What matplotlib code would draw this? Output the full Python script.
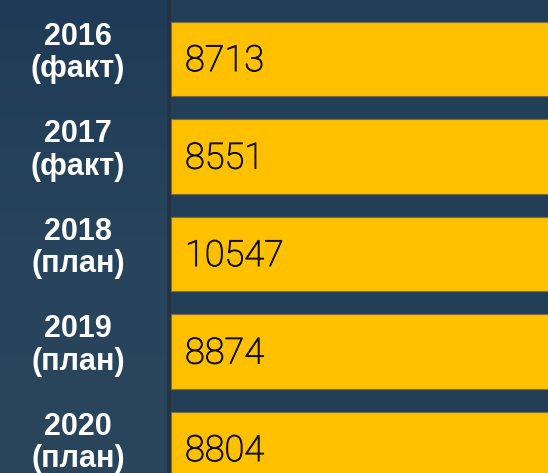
import numpy as np
import matplotlib
matplotlib.use("Agg")
import matplotlib.pyplot as plt
import matplotlib.patheffects as pe
from matplotlib.patches import Rectangle

# data
years = ["2016", "2017", "2018", "2019", "2020"]
kinds = ["(факт)", "(факт)", "(план)", "(план)", "(план)"]
values = [8713, 8551, 10547, 8874, 8804]

W, H = 548, 473
fig = plt.figure(figsize=(W / 100, H / 100), dpi=100)
fig.patch.set_facecolor("#233f58")

# left panel with a soft vertical gradient
bg = fig.add_axes([0, 0, 167 / W, 1])
grad = np.linspace(0, 1, 256).reshape(-1, 1)
cmap = matplotlib.colors.LinearSegmentedColormap.from_list("panel", ["#1f3b57", "#27445c", "#2a465c"])
bg.imshow(grad, aspect="auto", cmap=cmap, extent=[0, 1, 0, 1], origin="upper")
bg.set_axis_off()

# dark separator
fig.patches.append(Rectangle((167 / W, 0), 4 / W, 1, transform=fig.transFigure,
                             facecolor="#283342", edgecolor="none", zorder=1))

ax = fig.add_axes([171 / W, 0, 1 - 171 / W, 1])
ax.set_facecolor("none")
ypos = np.arange(len(values))
ax.barh(ypos, values, height=0.76, color="#ffc000", edgecolor="#7d6d3c", linewidth=0.8)
ax.set_xlim(0, 8000)
ax.set_ylim(4 + 24 / 97.5, -59 / 97.5)
ax.set_axis_off()

for i, v in enumerate(values):
    ax.annotate(str(v), xy=(0, i), xytext=(14 * 0.72, -1.5), textcoords="offset points",
                ha="left", va="center", fontsize=26, family="Roboto", fontweight="light",
                color="#111111",
                path_effects=[pe.withStroke(linewidth=0.7, foreground="#111111")])

# row labels on the left panel
for i in range(len(years)):
    ax.annotate(years[i] + "\n" + kinds[i], xy=(0, i), xycoords="data",
                xytext=(-93 * 0.72, 6 * 0.72), textcoords="offset points",
                ha="center", va="center", fontsize=22, fontweight="bold",
                family="Liberation Sans", color="white", linespacing=1.1,
                annotation_clip=False)

fig.savefig("out.png", dpi=100, facecolor=fig.get_facecolor())
